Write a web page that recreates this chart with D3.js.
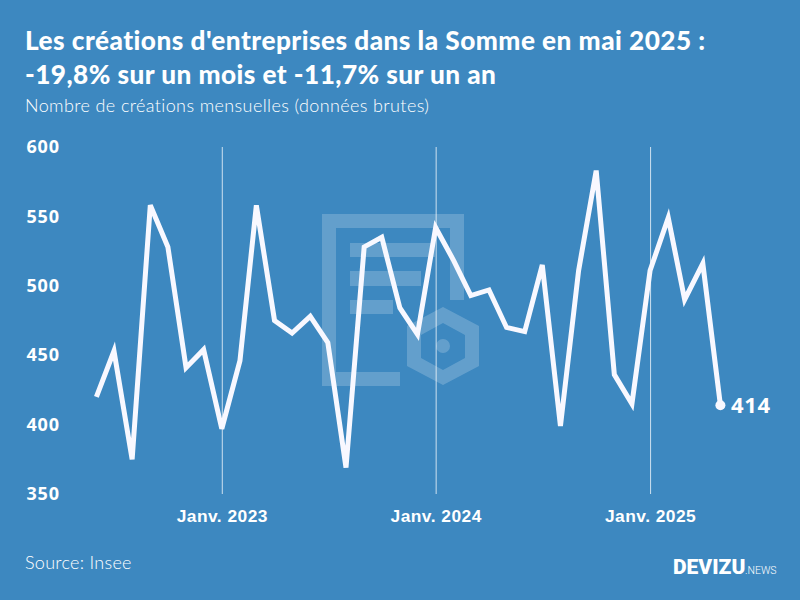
<!DOCTYPE html>
<html>
<head>
<meta charset="utf-8">
<script src="https://cdn.jsdelivr.net/npm/d3@7"></script>
<style>
html,body{margin:0;padding:0;background:#3d88c0;}
svg{display:block;}
text{font-family:Lato,sans-serif;fill:#fff;}
</style>
</head>
<body>
<script>
var w = 800, h = 600;

// mois de juin 2022 a mai 2025
var startMonth = new Date(2022, 5, 1);
var values = [420,453,375,558,528,441,454,397,446,558,475,466,478,459,369,528,535,484,465,542,518,493,497,470,467,515,399,511,583,436,415,511,549,490,516,414];
var yTicks = [350,400,450,500,550,600];
var xTicks = [new Date(2023,0,1), new Date(2024,0,1), new Date(2025,0,1)];
var xTickLabels = ["Janv. 2023","Janv. 2024","Janv. 2025"];

var dates = values.map(function(d,i){ return d3.timeMonth.offset(startMonth,i); });

var svg = d3.select("body").append("svg").attr("width",w).attr("height",h);
svg.append("rect").attr("width",w).attr("height",h).attr("fill","#3d88c0");

var x = d3.scaleTime().domain([dates[0], dates[35]]).range([96.4,720.4]);
var y = d3.scaleLinear().domain([350,600]).range([494,147]);

// logo en filigrane
var wm = svg.append("g").attr("fill","#fff").attr("fill-opacity",0.2);
wm.append("path").attr("d","M322 214H464V300H450V228H336V372H400V386H322Z");
wm.append("rect").attr("x",350).attr("y",243).attr("width",85).attr("height",14);
wm.append("rect").attr("x",350).attr("y",271).attr("width",71).attr("height",15);
wm.append("rect").attr("x",350).attr("y",300).attr("width",43).attr("height",14);
wm.append("path").attr("fill-rule","evenodd")
  .attr("d","M443 307L479 326V366L443 385L407 366V326Z M443 323L421 335V358L443 370L465 358V335Z");
wm.append("circle").attr("cx",443).attr("cy",346).attr("r",7);

// grille verticale + labels
var xAxis = d3.axisBottom(x)
    .tickValues(xTicks)
    .tickSize(-347)
    .tickPadding(16)
    .tickFormat(function(d,i){ return xTickLabels[i]; });
var gx = svg.append("g").attr("transform","translate(0,494)").call(xAxis);
gx.select(".domain").remove();
gx.selectAll("line").attr("stroke","#fff").attr("stroke-opacity",0.75).attr("stroke-width",1);
gx.selectAll("text").attr("font-size",17.4).attr("font-weight",700).attr("fill","#fff")
  .style("font-family","'Liberation Sans',sans-serif").style("letter-spacing","0.45px");

var yAxis = d3.axisLeft(y).tickValues(yTicks).tickSize(0).tickPadding(0);
var gy = svg.append("g").attr("transform","translate(60,0)").call(yAxis);
gy.select(".domain").remove();
gy.selectAll("text").attr("font-size",18).attr("font-weight",700).attr("fill","#fff")
  .style("font-family","'Open Sans',sans-serif").style("letter-spacing","0.9px");

// courbe
var line = d3.line().x(function(d,i){ return x(dates[i]); }).y(function(d){ return y(d); });
svg.append("path").datum(values).attr("d",line)
  .attr("fill","none").attr("stroke","#f8f8ff").attr("stroke-width",5)
  .attr("stroke-linejoin","miter").attr("stroke-miterlimit",4);

svg.append("circle").attr("cx",x(dates[35])).attr("cy",y(values[35])).attr("r",5).attr("fill","#f8f8ff");
svg.append("text").attr("x",x(dates[35])+10.5).attr("y",y(values[35])+8)
  .attr("font-size",22).attr("font-weight",700).style("font-family","'Open Sans',sans-serif")
  .style("letter-spacing","0.7px").text(values[35]);

// titres
svg.append("text").attr("x",25).attr("y",50).attr("font-size",26.2).attr("font-weight",900)
  .style("letter-spacing","0.47px")
  .text("Les créations d'entreprises dans la Somme en mai 2025 :");
svg.append("text").attr("x",25).attr("y",84).attr("font-size",26.2).attr("font-weight",900)
  .style("letter-spacing","0.44px")
  .text("-19,8% sur un mois et -11,7% sur un an");
svg.append("text").attr("x",25).attr("y",112).attr("font-size",18).attr("font-weight",300)
  .style("letter-spacing","0.38px")
  .text("Nombre de créations mensuelles (données brutes)");
svg.append("text").attr("x",25).attr("y",569).attr("font-size",18).attr("font-weight",300)
  .style("letter-spacing","0.28px").text("Source: Insee");

// marque
svg.append("text").attr("x",673).attr("y",574).attr("font-size",21).attr("font-weight",900)
  .style("font-family","Roboto,sans-serif").text("DEVIZU");
svg.append("text").attr("x",745).attr("y",574).attr("font-size",10.5).attr("font-weight",300)
  .style("font-family","Roboto,sans-serif").text(".NEWS");
</script>
</body>
</html>
